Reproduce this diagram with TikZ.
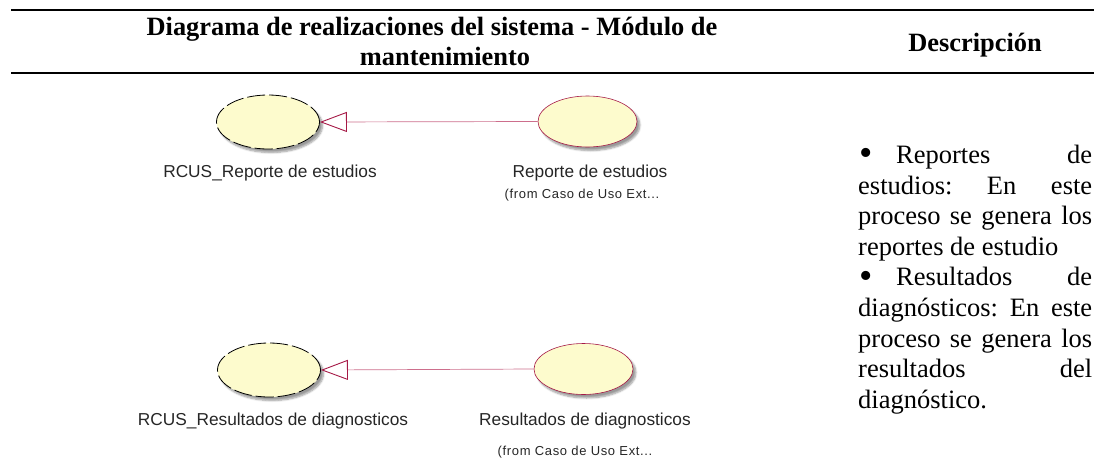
\documentclass[tikz,border=0pt]{standalone}
\usepackage{fontspec}
\setmainfont{Liberation Serif}
\newfontfamily\umlfont{Liberation Sans}
\newfontfamily\umlfromfont[LetterSpace=5]{Liberation Sans}
\usetikzlibrary{arrows.meta,shadows.blur,shapes.geometric}
\definecolor{ucfill}{RGB}{253,251,205}
\definecolor{ucred}{RGB}{165,25,70}
\definecolor{linkred}{RGB}{205,110,140}
\newcommand{\bigbul}{\makebox[38pt][l]{\hspace*{1pt}\raisebox{-2.2pt}{\fontsize{38}{30}\selectfont\textbullet}}}
\tikzset{
  uc/.style={ellipse, fill=ucfill, inner sep=0pt,
    blur shadow={shadow xshift=3pt, shadow yshift=-3.5pt, shadow blur steps=6, shadow opacity=40}},
  ucreal/.style={uc, draw=black, line width=0.8pt, dash pattern=on 18pt off 4pt,
    minimum width=103pt, minimum height=54pt},
  ucbase/.style={uc, draw=ucred, line width=0.6pt, minimum width=99pt, minimum height=51pt},
  lbl/.style={font=\umlfont\fontsize{17.3}{20}\selectfont, inner sep=0pt, text=black!85},
  fromlbl/.style={font=\umlfromfont\fontsize{13}{15}\selectfont, inner sep=0pt, text=black!85},
  realize/.style={draw=linkred, line width=0.7pt,
    -{Triangle[open, length=27pt, width=20pt, color=ucred, line width=0.9pt]}},
  hdr/.style={font=\bfseries\fontsize{26.4}{30}\selectfont, inner sep=0pt, anchor=base},
  rule/.style={line width=2pt},
}
\begin{document}
\begin{tikzpicture}[x=1pt,y=-1pt]
\useasboundingbox (0,0) rectangle (1096,472);
% header
\coordinate (r1a) at (11,10); \coordinate (r1b) at (1094,10);
\coordinate (r2a) at (11,73); \coordinate (r2b) at (1094,73);
\draw[rule] (r1a) -- (r1b);
\draw[rule] (r2a) -- (r2b);
\node[hdr] (h1) at (432,35) {Diagrama de realizaciones del sistema - Módulo de};
\node[hdr] (h1b) at (445,65) {mantenimiento};
\node[hdr] (h2) at (975,51) {Descripción};
% top pair
\node[ucreal] (rc1) at (268,122) {};
\node[ucbase] (uc1) at (587.5,121.5) {};
\draw[realize] (uc1.west) -- (rc1.east);
\node[lbl] (l1) at (270,173) {RCUS\_Reporte de estudios};
\node[lbl] (l2) at (590,173) {Reporte de estudios};
\node[fromlbl] (f1) at (582,195) {(from Caso de Uso Ext...};
% bottom pair
\node[ucreal] (rc2) at (269,370) {};
\node[ucbase] (uc2) at (583.5,369) {};
\draw[realize] (uc2.west) -- (rc2.east);
\node[lbl] (l3) at (273,421) {RCUS\_Resultados de diagnosticos};
\node[lbl] (l4) at (585,421) {Resultados de diagnosticos};
\node[fromlbl] (f2) at (575,452) {(from Caso de Uso Ext...};
% description
\node[anchor=north west, text width=234pt, align=justify, inner sep=0pt,
      font=\fontsize{26.5}{30.6}\selectfont] (desc) at (858,145)
  {\frenchspacing\tolerance=10000\hyphenpenalty=10000\exhyphenpenalty=10000
   \bigbul Reportes de\linebreak
   estudios: En este\linebreak
   proceso se genera los\linebreak
   reportes de estudio\par
   \bigbul Resultados de\linebreak
   diagnósticos: En este\linebreak
   proceso se genera los\linebreak
   resultados del\linebreak
   diagnóstico.};
\end{tikzpicture}
\end{document}
